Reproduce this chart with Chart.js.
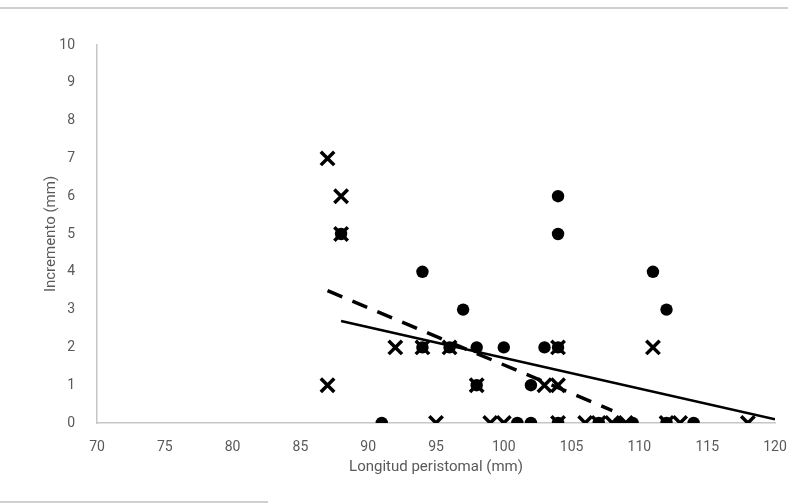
<!DOCTYPE html>
<html>
<head>
<meta charset="utf-8">
<script src="https://cdn.jsdelivr.net/npm/chart.js@4.4.1/dist/chart.umd.min.js"></script>
<style>
  html, body { margin: 0; padding: 0; background: #fff; }
  #wrap { position: relative; width: 788px; height: 504px; }
  #topLine { position: absolute; left: 0; top: 7px; width: 788px; height: 0; border-top: 2px solid #d0d0d0; }
  #botLine { position: absolute; left: 0; top: 501px; width: 268px; height: 0; border-top: 2px solid #d0d0d0; }
</style>
</head>
<body>
<div id="wrap">
  <canvas id="chart" width="788" height="504"></canvas>
  <div id="topLine"></div>
  <div id="botLine"></div>
</div>
<script>
  "use strict";

  // puntos círculo (x = longitud peristomal, y = incremento)
  var circleX = [88, 91, 94, 94, 96, 97, 98, 98, 100, 101, 102, 102, 103, 104, 104, 104, 104, 107, 108.5, 109.5, 111, 112, 112, 114];
  var circleY = [5, 0, 4, 2, 2, 3, 2, 1, 2, 0, 0, 1, 2, 6, 5, 2, 0, 0, 0, 0, 4, 3, 0, 0];

  // puntos cruz
  var crossX = [87, 88, 88, 87, 92, 94, 96, 98, 95, 99, 100, 103, 104, 104, 104, 106, 107, 108, 109, 111, 112, 113, 118];
  var crossY = [7, 6, 5, 1, 2, 2, 2, 1, 0, 0, 0, 1, 1, 2, 0, 0, 0, 0, 0, 2, 0, 0, 0];

  // líneas de tendencia (extremos)
  var trendSolidX = [88, 120];
  var trendSolidY = [2.7, 0.1];
  var trendDashX = [87, 108];
  var trendDashY = [3.5, 0.33];

  var xTicks = [70, 75, 80, 85, 90, 95, 100, 105, 110, 115, 120];
  var yTicks = [0, 1, 2, 3, 4, 5, 6, 7, 8, 9, 10];

  function pts(xs, ys) {
    return xs.map(function (x, i) { return { x: x, y: ys[i] }; });
  }

  var FONT = "'Liberation Sans Narrow', 'Roboto', sans-serif";
  var GREY = "#595959";

  new Chart(document.getElementById("chart"), {
    type: "scatter",
    data: {
      datasets: [
        {
          label: "cruz", data: pts(crossX, crossY),
          pointStyle: "crossRot", pointRadius: 9.5, pointBorderWidth: 3.5,
          borderColor: "#000", backgroundColor: "#000"
        },
        {
          label: "círculo", data: pts(circleX, circleY),
          pointStyle: "circle", pointRadius: 6.2, pointBorderWidth: 0,
          borderColor: "#000", backgroundColor: "#000"
        },
        {
          label: "tendencia 1", data: pts(trendSolidX, trendSolidY), type: "line",
          showLine: true, pointRadius: 0, borderColor: "#000", borderWidth: 2.6, fill: false
        },
        {
          label: "tendencia 2", data: pts(trendDashX, trendDashY), type: "line",
          showLine: true, pointRadius: 0, borderColor: "#000", borderWidth: 3.5,
          borderDash: [16, 11], fill: false
        }
      ]
    },
    options: {
      responsive: false,
      animation: false,
      layout: { padding: { left: 38, right: 0, top: 45, bottom: 24 } },
      plugins: { legend: { display: false }, tooltip: { enabled: false } },
      scales: {
        x: {
          type: "linear", min: 70, max: 120,
          afterBuildTicks: function (s) { s.ticks = xTicks.map(function (v) { return { value: v }; }); },
          afterFit: function (s) { s.height = 57; s.paddingRight = 12; s.paddingLeft = 0; },
          grid: { display: false },
          border: { display: true, color: "#c6c6c6", width: 1.5 },
          ticks: { color: GREY, font: { family: FONT, size: 14 }, padding: 8, maxRotation: 0 },
          title: { display: true, text: "Longitud peristomal (mm)", color: GREY, font: { family: FONT, size: 15 }, padding: { top: 2, bottom: 4 } }
        },
        y: {
          type: "linear", min: 0, max: 10,
          afterBuildTicks: function (s) { s.ticks = yTicks.map(function (v) { return { value: v }; }); },
          afterFit: function (s) { s.width = 59; },
          grid: { display: false },
          border: { display: true, color: "#c6c6c6", width: 1.5 },
          ticks: { color: GREY, font: { family: FONT, size: 14 }, padding: 14 },
          title: { display: true, text: "Incremento (mm)", color: GREY, font: { family: FONT, size: 15 }, padding: { top: 4, bottom: 2 } }
        }
      }
    }
  });
</script>
</body>
</html>
